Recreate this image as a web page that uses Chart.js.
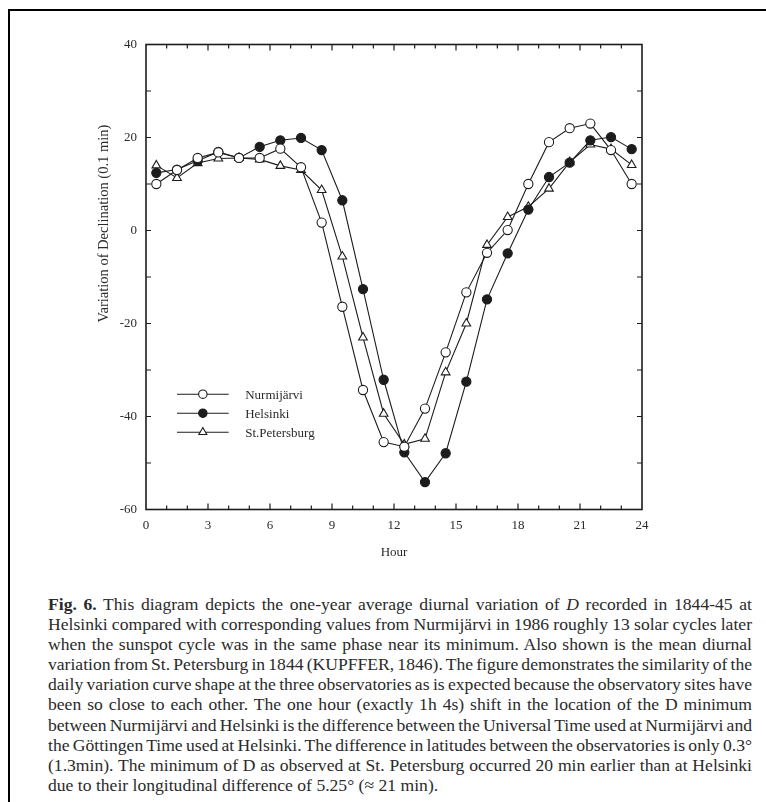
<!DOCTYPE html>
<html><head><meta charset="utf-8">
<script src="https://cdn.jsdelivr.net/npm/chart.js@4.4.1/dist/chart.umd.min.js"></script>
<style>
html,body{margin:0;padding:0;background:#fff;width:766px;height:802px;overflow:hidden;}
#frame{position:absolute;left:8px;top:9px;width:780px;height:820px;border-left:2px solid #000;border-top:2px solid #000;}
#wrap{position:absolute;left:0;top:0;width:766px;height:580px;}
#cap{position:absolute;left:48px;top:594px;width:704px;font-family:"Liberation Serif","Times New Roman",serif;font-size:17.6px;line-height:20.1px;color:#2a2a2a;}
#cap .ln{white-space:nowrap;}
</style></head><body>
<div id="frame"></div>
<div id="wrap"><canvas id="c" width="766" height="580"></canvas></div>
<div id="cap">
<div class="ln j"><b>Fig. 6.</b> This diagram depicts the one-year average diurnal variation of <i>D</i> recorded in 1844-45 at</div>
<div class="ln j">Helsinki compared with corresponding values from Nurmijärvi in 1986 roughly 13 solar cycles later</div>
<div class="ln j">when the sunspot cycle was in the same phase near its minimum. Also shown is the mean diurnal</div>
<div class="ln j">variation from St. Petersburg in 1844 (KUPFFER, 1846). The figure demonstrates the similarity of the</div>
<div class="ln j">daily variation curve shape at the three observatories as is expected because the observatory sites have</div>
<div class="ln j">been so close to each other. The one hour (exactly 1h 4s) shift in the location of the D minimum</div>
<div class="ln j">between Nurmijärvi and Helsinki is the difference between the Universal Time used at Nurmijärvi and</div>
<div class="ln j">the Göttingen Time used at Helsinki. The difference in latitudes between the observatories is only 0.3°</div>
<div class="ln j">(1.3min). The minimum of D as observed at St. Petersburg occurred 20 min earlier than at Helsinki</div>
<div class="ln">due to their longitudinal difference of 5.25° (≈ 21 min).</div>
</div>
<script>
// ---- data ----
const hours = [0.5,1.5,2.5,3.5,4.5,5.5,6.5,7.5,8.5,9.5,10.5,11.5,12.5,13.5,14.5,15.5,16.5,17.5,18.5,19.5,20.5,21.5,22.5,23.5];
const nurmijarvi = [10,13,15.6,16.8,15.6,15.6,17.6,13.6,1.7,-16.4,-34.3,-45.5,-46.5,-38.3,-26.2,-13.3,-4.8,0.1,10,19,22,23,17.3,10];
const helsinki = [12.4,13.1,15,16.9,15.6,18,19.4,19.9,17.3,6.5,-12.6,-32.1,-47.7,-54.1,-47.9,-32.5,-14.8,-4.9,4.5,11.5,14.6,19.4,20.1,17.5];
const stPetersburg = [14,11.3,14.5,15.5,15.6,15.3,13.9,13,8.7,-5.6,-23,-39.4,-46,-44.8,-30.5,-20,-3.1,2.9,5.1,9,14.7,18.5,17.5,14.1];
const seriesNames = ['Nurmijärvi','Helsinki','St.Petersburg'];
const xTickLabels = [0,3,6,9,12,15,18,21,24];
const yTickLabels = [-60,-40,-20,0,20,40];
const xTitle = 'Hour';
const yTitle = 'Variation of Declination (0.1 min)';

const INK = '#1c1c1c';
const TXT = '#2a2a2a';
const SERIF = '"Liberation Serif","Times New Roman",serif';

function pts(vals){ return hours.map((h,i)=>({x:h,y:vals[i]})); }

const ds = (label, vals, style, fill) => ({
  label, data: pts(vals), borderColor: INK, borderWidth: 1.1,
  pointStyle: style, pointRadius: style==='triangle'?5:4.6, pointBorderWidth: 1.1,
  pointBackgroundColor: fill, pointBorderColor: INK, tension: 0, fill: false
});

const framePlugin = {
  id: 'framePlugin',
  afterDraw(chart){
    const {ctx, chartArea:{left,right,top,bottom}, scales:{x,y}} = chart;
    ctx.save();
    ctx.strokeStyle = INK; ctx.lineWidth = 1.6;
    ctx.strokeRect(left, top, right-left, bottom-top);
    ctx.lineWidth = 1.2;
    ctx.beginPath();
    for (let h=1; h<24; h++){
      const px = x.getPixelForValue(h);
      const L = h%3===0 ? 6 : 4;
      ctx.moveTo(px,bottom); ctx.lineTo(px,bottom-L);
      ctx.moveTo(px,top); ctx.lineTo(px,top+L);
    }
    for (let v=-50; v<40; v+=10){
      const py = y.getPixelForValue(v);
      const L = 5;
      ctx.moveTo(left,py); ctx.lineTo(left+L,py);
      ctx.moveTo(right,py); ctx.lineTo(right-L,py);
    }
    ctx.stroke();
    // y-axis title (placed like the original, slightly above the axis centre)
    ctx.save();
    ctx.translate(104, y.getPixelForValue(1.5));
    ctx.rotate(-Math.PI/2);
    ctx.font = '14.5px ' + SERIF; ctx.fillStyle = TXT;
    ctx.textAlign = 'center'; ctx.textBaseline = 'middle';
    ctx.fillText(yTitle, 0, 0);
    ctx.restore();
    // legend
    const lx0 = x.getPixelForValue(1.5), lx1 = x.getPixelForValue(4.0), mx = x.getPixelForValue(2.75);
    const tx = x.getPixelForValue(4.8);
    const y0 = y.getPixelForValue(-35.2), dy = 19;
    ctx.font = '13px ' + SERIF; ctx.textBaseline = 'middle'; ctx.textAlign = 'left';
    chart.data.datasets.forEach((d,i)=>{
      const yy = y0 + i*dy;
      ctx.strokeStyle = INK; ctx.lineWidth = 1.1;
      ctx.beginPath(); ctx.moveTo(lx0,yy); ctx.lineTo(lx1,yy); ctx.stroke();
      ctx.fillStyle = d.pointBackgroundColor; ctx.strokeStyle = INK; ctx.lineWidth = 1.1;
      Chart.helpers.drawPoint(ctx, {pointStyle:d.pointStyle, rotation:0, borderWidth:1.1, radius: d.pointStyle==='triangle'?4.6:4.2}, mx, yy);
      ctx.fillStyle = TXT;
      ctx.fillText(d.label, tx, yy+1);
    });
    ctx.restore();
  }
};

new Chart(document.getElementById('c'), {
  type: 'line',
  data: { datasets: [
    ds(seriesNames[0], nurmijarvi, 'circle', '#ffffff'),
    ds(seriesNames[1], helsinki, 'circle', INK),
    ds(seriesNames[2], stPetersburg, 'triangle', '#ffffff')
  ]},
  options: {
    responsive: false, animation: false, devicePixelRatio: 1,
    layout: { padding: { left: 0, top: 44.5, right: 124, bottom: 0 } },
    plugins: { legend: { display: false }, tooltip: { enabled: false } },
    scales: {
      x: {
        type: 'linear', min: 0, max: 24,
        afterBuildTicks: s => { s.ticks = xTickLabels.map(v => ({value: v})); },
        grid: { display: false, drawTicks: false }, border: { display: false },
        ticks: { padding: 8, autoSkip: false, maxRotation: 0, color: TXT, font: { family: SERIF, size: 13 } },
        title: { display: true, text: xTitle, color: TXT, font: { family: SERIF, size: 13 }, padding: { top: 0, bottom: 20 } },
        afterFit: s => { s.height = 70.5; }
      },
      y: {
        type: 'linear', min: -60, max: 40,
        afterBuildTicks: s => { s.ticks = yTickLabels.map(v => ({value: v})); },
        grid: { display: false, drawTicks: false }, border: { display: false },
        ticks: { padding: 9, color: TXT, font: { family: SERIF, size: 13 } },
        title: { display: false, text: yTitle },
        afterFit: s => { s.width = 146; }
      }
    }
  },
  plugins: [framePlugin]
});

// justify caption lines
function justify(){
  const W = 704;
  document.querySelectorAll('#cap .ln.j').forEach(el=>{
    el.style.wordSpacing = '0px';
    el.style.display = 'inline-block';
    const w = el.getBoundingClientRect().width;
    const spaces = (el.textContent.match(/ /g)||[]).length;
    el.style.display = 'block';
    if (spaces) el.style.wordSpacing = ((W - w)/spaces) + 'px';
  });
}
justify();
if (document.fonts && document.fonts.ready) document.fonts.ready.then(justify);
</script>
</body></html>
